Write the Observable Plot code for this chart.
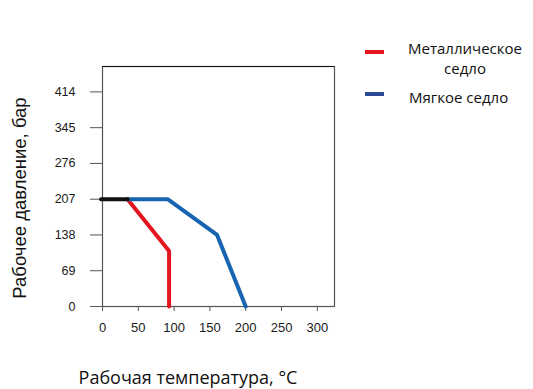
<!DOCTYPE html>
<html>
<head>
<meta charset="utf-8">
<script src="https://cdn.jsdelivr.net/npm/d3@7"></script>
<script src="https://cdn.jsdelivr.net/npm/@observablehq/plot@0.6"></script>
<style>
  body { margin: 0; background: #fff; }
  #wrap { position: relative; width: 533px; height: 389px; }
  .leg { position: absolute; font-family: "Open Sans", sans-serif; font-size: 15px; color: #111; white-space: nowrap; }
  .sw { position: absolute; height: 4px; width: 19px; }
  .ttl { position: absolute; color: #111; white-space: nowrap; }
</style>
</head>
<body>
<div id="wrap"></div>
<script>
// Data
const xTicks = [0, 50, 100, 150, 200, 250, 300];
const yTicks = [0, 69, 138, 207, 276, 345, 414];
const blackX = [-2, 35];
const blackY = [207, 207];
const redX = [35, 93, 93];
const redY = [207, 107, 0];
const blueX = [35, 91, 160, 200];
const blueY = [207, 207, 138, 0];
const seriesNames = ["Металлическое седло", "Мягкое седло"];
const colors = { red: "#e3161f", blue: "#1765b0", black: "#111111", legBlue: "#2b4a98" };

const toPts = (xs, ys) => xs.map((x, i) => ({ x, y: ys[i] }));

const chart = Plot.plot({
  width: 533,
  height: 389,
  marginLeft: 102,
  marginRight: 199,
  marginTop: 66,
  marginBottom: 83,
  style: { fontFamily: "Liberation Sans, Arial, sans-serif", fontSize: "13px", color: "#1a1a1a", background: "#fff" },
  x: { domain: [0, 324], label: null },
  y: { domain: [0, 463], label: null },
  marks: [
    Plot.axisX({ ticks: xTicks, tickSize: 5, tickPadding: 11, stroke: "#555", fontSize: 13, label: null }),
    Plot.axisY({ ticks: yTicks, tickSize: 12, tickPadding: 15, stroke: "#555", fontSize: 12.5, label: null }),
    Plot.frame({ stroke: "#555", strokeWidth: 1.2 }),
    Plot.ruleY([463], { stroke: "#111", strokeWidth: 1.2 }),
    Plot.line(toPts(redX, redY), { x: "x", y: "y", stroke: colors.red, strokeWidth: 4, strokeLinejoin: "miter" }),
    Plot.line(toPts(blueX, blueY), { x: "x", y: "y", stroke: colors.blue, strokeWidth: 4, strokeLinejoin: "miter" }),
    Plot.line(toPts(blackX, blackY), { x: "x", y: "y", stroke: colors.black, strokeWidth: 4, clip: false })
  ]
});

const wrap = document.getElementById("wrap");
wrap.appendChild(chart);

function addDiv(cls, style, text) {
  const d = document.createElement("div");
  d.className = cls;
  Object.assign(d.style, style);
  if (text != null) d.textContent = text;
  wrap.appendChild(d);
  return d;
}

// Legend
addDiv("sw", { left: "365px", top: "50px", background: colors.red });
addDiv("leg", { left: "395px", top: "38px", width: "140px", textAlign: "center", lineHeight: "20px" }, "Металлическое");
addDiv("leg", { left: "395px", top: "58px", width: "140px", textAlign: "center", lineHeight: "20px" }, "седло");
addDiv("sw", { left: "365px", top: "92px", background: colors.legBlue });
addDiv("leg", { left: "409px", top: "87px", lineHeight: "20px" }, seriesNames[1]);

// Axis titles
addDiv("ttl", { left: "20px", top: "198px", fontFamily: "Liberation Sans, Arial, sans-serif", fontSize: "18.5px", transform: "translate(-50%,-50%) rotate(-90deg)" }, "Рабочее давление, бар");
addDiv("ttl", { left: "188px", top: "377px", fontFamily: "Open Sans, sans-serif", fontSize: "18px", transform: "translate(-50%,-50%)" }, "Рабочая температура, °C");
</script>
</body>
</html>
